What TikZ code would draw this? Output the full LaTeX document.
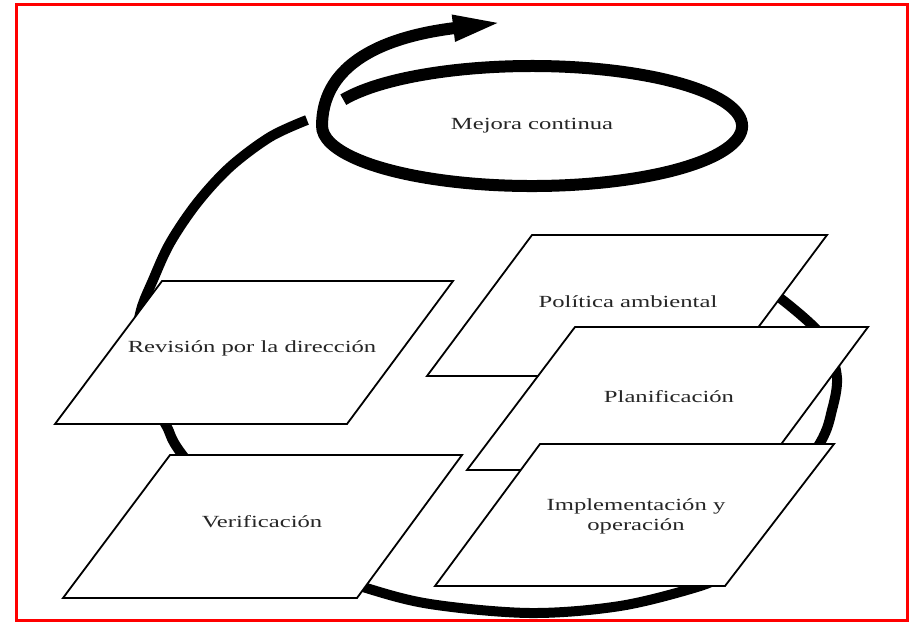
\documentclass[tikz,border=0pt]{standalone}
\usepackage{fontspec}
\setmainfont{Liberation Serif}[FakeStretch=1.45]
\usetikzlibrary{arrows.meta}
\begin{document}
\begin{tikzpicture}[x=1pt,y=-1pt,
  box/.style={draw=black, line width=1.8pt, fill=white, line join=miter},
  lbl/.style={text=black!85, font=\fontsize{17}{20}\selectfont, align=center, inner sep=0pt},
  cyclearc/.style={line width=10pt, line cap=butt},
  spiral/.style={line width=12pt, line cap=butt},
  frame/.style={draw=red, line width=3pt}
]
\useasboundingbox (0,0) rectangle (911,622);
% big cycle behind the boxes
\draw[cyclearc] plot[smooth, tension=0.55] coordinates {
  (307,120) (270,137) (230,167) (197,203) (170,243) (153,280) (141,310)
  (136,345) (143,380) (155,405) (167,427) (181,453) (240,525) (295,563)
  (363,587) (430,604) (530,613) (620,606) (697,587) (722,575) (741,555)
  (776,507) (820,443) (832,410) (837,378) (828,345) (812,325) (780,298) (755,282)};
% boxes
\draw[box] (532,235) -- (827,235) -- (722,376) -- (427,376) -- cycle;
\node[lbl] (pol) at (628,302) {Política ambiental};
\draw[box] (575,327) -- (868,327) -- (762,470) -- (467,470) -- cycle;
\node[lbl] (pla) at (669,397) {Planificación};
\draw[box] (540,444) -- (834,444) -- (725,586) -- (435,586) -- cycle;
\node[lbl] (imp) at (636,516) {Implementación y\\operación};
\draw[box] (162,281) -- (453,281) -- (347,424) -- (55,424) -- cycle;
\node[lbl] (rev) at (252,348) {Revisión por la dirección};
\draw[box] (170,455) -- (462,455) -- (357,598) -- (63,598) -- cycle;
\node[lbl] (ver) at (262,522) {Verificación};
% continual improvement spiral
\node[lbl] (mc) at (532,126) {Mejora continua};
\draw[spiral, -{Triangle[length=52pt,width=23pt]}] (343.3,99.7)
  arc[start angle=-154, end angle=180, x radius=210, y radius=60]
  .. controls (322,70) and (372,38) .. (505,22);
% frame
\draw[frame] (16.5,4.5) rectangle (907.5,620.5);
\end{tikzpicture}
\end{document}
